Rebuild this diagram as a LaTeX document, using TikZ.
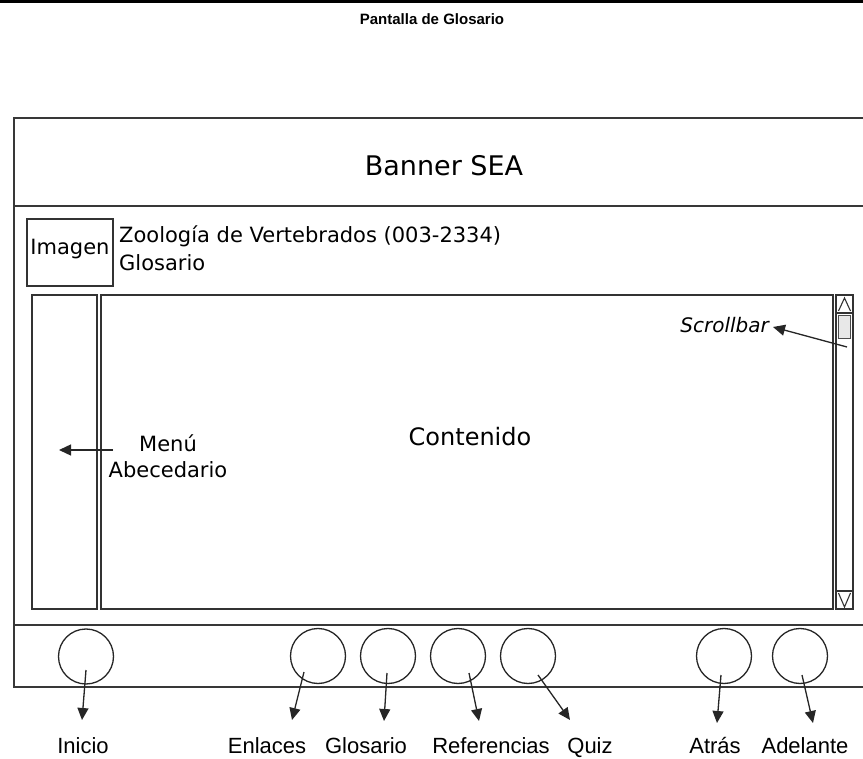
\documentclass[tikz,border=0pt]{standalone}
\usepackage{fontspec}
\setmainfont{Liberation Sans}
\newfontfamily\dvsans{DejaVu Sans}
\usetikzlibrary{arrows.meta,calc}
\begin{document}
\begin{tikzpicture}[x=1pt,y=-1pt,
  frame/.style={draw=black!78,line width=1.7pt},
  box/.style={draw=black!80,line width=1.4pt,inner sep=0pt},
  btn/.style={circle,draw=black!85,line width=1.3pt,minimum size=55pt,inner sep=0pt},
  lbl/.style={font=\fontsize{22}{26}\selectfont,anchor=base,inner sep=0pt},
  dv/.style={font=\dvsans\fontsize{21}{25}\selectfont,inner sep=0pt},
  arr/.style={-{Triangle[length=12pt,width=11pt]},line width=1.3pt,draw=black!85,fill=black}]
\useasboundingbox (0,0) rectangle (863,759);
\clip (0,0) rectangle (863,759);
% title
\draw[line width=2.6pt] (0,1.5) -- (863,1.5);
\node[font=\bfseries\fontsize{15}{18}\selectfont,anchor=base,inner sep=0pt] (title) at (432,25) {Pantalla de Glosario};
% outer frame
\draw[frame] (14,118) rectangle (880,687);
\draw[frame] (14,206) -- (880,206);
\draw[frame] (14,625) -- (880,625);
\node[font=\dvsans\fontsize{27}{32}\selectfont,anchor=base,inner sep=0pt] (banner) at (444,176) {Banner SEA};
% header
\node[box,minimum width=86pt,minimum height=67pt] (img) at (70,252.5) {};
\node[dv,anchor=base] (imgt) at (70,255) {Imagen};
\node[dv,anchor=base west] (course) at (119,243) {Zoología de Vertebrados (003-2334)};
\node[dv,anchor=base west] (glos) at (119,271) {Glosario};
% body
\node[box,minimum width=65pt,minimum height=314pt] (menu) at (64.5,452) {};
\node[box,minimum width=732pt,minimum height=314pt] (cont) at (467,452) {};
\node[box,minimum width=17pt,minimum height=314pt] (sb) at (844.5,452) {};
\draw[black!80,line width=1.2pt] (sb.north west |- 0,313) -- (sb.north east |- 0,313);
\draw[black!80,line width=1.1pt] (838.5,311) -- (844.5,298) -- (850.5,311);
\node[draw=black!70,fill=gray!18,line width=1pt,minimum width=12pt,minimum height=23pt,inner sep=0pt] (thumb) at (844.5,327.5) {};
\draw[black!80,line width=1.2pt] (sb.south west |- 0,591) -- (sb.south east |- 0,591);
\draw[black!80,line width=1.1pt] (838.5,593) -- (844.5,607) -- (850.5,593);
\node[font=\dvsans\fontsize{24}{28}\selectfont,anchor=base,inner sep=0pt] (contl) at (470,446) {Contenido};
\node[dv,anchor=base] (menu1) at (168,452) {Menú};
\node[dv,anchor=base] (menu2) at (168,478) {Abecedario};
\coordinate (ms) at (113,450);
\coordinate (me) at (59,450);
\draw[arr] (ms) -- (me);
\node[font=\dvsans\itshape\fontsize{20}{24}\selectfont,anchor=base east,inner sep=0pt] (sbl) at (769,333) {Scrollbar};
\coordinate (ss) at (847,347);
\coordinate (se) at (773,327);
\draw[arr] (ss) -- (se);
% footer buttons
\node[btn] (b1) at (86,656.5) {};
\node[btn] (b2) at (318,656) {};
\node[btn] (b3) at (388,656) {};
\node[btn] (b4) at (458,656) {};
\node[btn] (b5) at (528,656) {};
\node[btn] (b6) at (724,656) {};
\node[btn] (b7) at (800,656) {};
% labels
\node[lbl] (l1) at (83,753) {Inicio};
\node[lbl] (l2) at (267,753) {Enlaces};
\node[lbl] (l3) at (366,753) {Glosario};
\node[lbl] (l4) at (491,753) {Referencias};
\node[lbl] (l5) at (590,753) {Quiz};
\node[lbl] (l6) at (715,753) {Atrás};
\node[lbl] (l7) at (805,753) {Adelante};
% arrows
\coordinate (s1) at (86,670);  \coordinate (e1) at (82,720);
\coordinate (s2) at (304,672); \coordinate (e2) at (292,720);
\coordinate (s3) at (387,673); \coordinate (e3) at (384,721);
\coordinate (s4) at (469,673); \coordinate (e4) at (479,721);
\coordinate (s5) at (538,675); \coordinate (e5) at (570,720);
\coordinate (s6) at (721,675); \coordinate (e6) at (717,723);
\coordinate (s7) at (802,675); \coordinate (e7) at (813,723);
\foreach \i in {1,...,7}{\draw[arr] (s\i) -- (e\i);}
\end{tikzpicture}
\end{document}
